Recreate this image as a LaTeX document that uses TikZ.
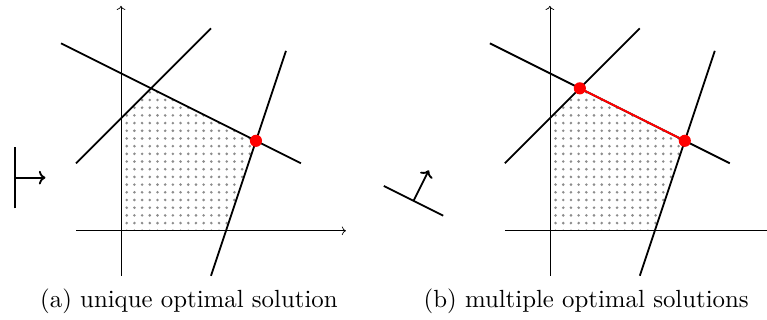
\documentclass[tikz,border=0pt]{standalone}
\usepackage{tikz}
\usetikzlibrary{arrows.meta,positioning,calc}
\definecolor{dotgray}{HTML}{8C8C8C}
\definecolor{optred}{HTML}{FF0000}
\newcommand{\capttext}[1]{\scalebox{1.57}{#1}}

\begin{document}
\begin{tikzpicture}[x=1cm,y=1cm,
 axis/.style={->,line width=0.45pt},
 constr/.style={line width=1.15pt},
 objline/.style={line width=1.15pt},
 optpt/.style={circle,fill=optred,inner sep=0pt,minimum size=0.27cm},
 capt/.style={anchor=base,inner sep=0pt,font=\normalsize}]
\useasboundingbox (-2.69,-1.98) rectangle (14.36,5.13);
% the two panels share the feasible region
\foreach \ox/\p in {0/a,9.533/b} {
 \begin{scope}[xshift=\ox cm]
  \coordinate (o\p) at (0,0);
  \coordinate (p1\p) at (0,2.5);
  \coordinate (p2\p) at (2/3,19/6);
  \coordinate (p3\p) at (3,2);
  \coordinate (p4\p) at (7/3,0);
  \begin{scope}
   \clip (o\p) -- (p1\p) -- (p2\p) -- (p3\p) -- (p4\p) -- cycle;
   \foreach \i in {0,...,18}
    \foreach \j in {0,...,19}
     \fill[dotgray] (0.127+0.171*\i,0.171*\j) circle (0.032);
  \end{scope}
  \draw[axis] (-1,0) -- (5,0);
  \draw[axis] (0,-1) -- (0,5);
  \draw[constr] (-1,1.5) -- (2,4.5);
  \draw[constr] (-4/3,25/6) -- (4,1.5);
  \draw[constr] (2,-1) -- (11/3,4);
 \end{scope}
}
% (a) objective and optimum
\coordinate (ca) at (-2.36,1.18);
\draw[objline] (-2.36,0.5) -- (-2.36,1.86);
\draw[objline,->] (ca) -- ++(0.68,0);
\node[optpt] (opta) at (p3a) {};
% (b) objective parallel to a constraint
\coordinate (cb) at (9.533-3.03,0.665);
\draw[objline] ($(cb)+(-0.66,0.33)$) -- ($(cb)+(0.66,-0.33)$);
\draw[objline,->] (cb) -- ++(0.34,0.68);
\draw[optred,line width=1.2pt] (p2b) -- (p3b);
\node[optpt] (optb1) at (p2b) {};
\node[optpt] (optb2) at (p3b) {};
% captions
\node[capt] (capa) at (1.51,-1.71) {\capttext{(a) unique optimal solution}};
\node[capt] (capb) at (10.34,-1.71) {\capttext{(b) multiple optimal solutions}};
\end{tikzpicture}
\end{document}
